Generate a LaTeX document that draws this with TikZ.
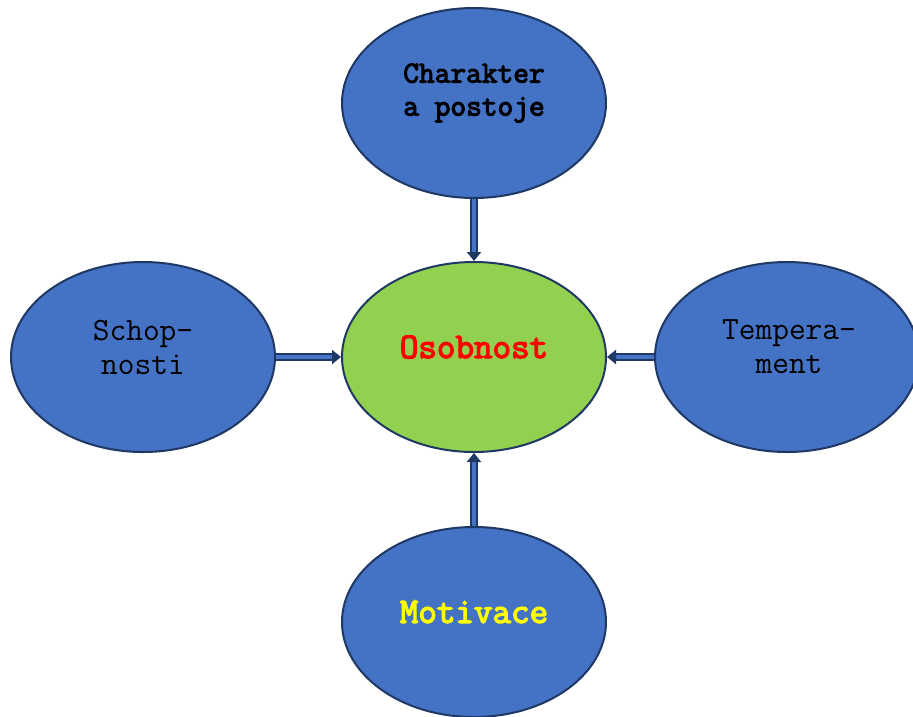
\documentclass[tikz,border=0pt]{standalone}
\usepackage{fontspec}
\newfontfamily\heavymono[FakeBold=3.5]{Latin Modern Mono}
\usetikzlibrary{arrows.meta,shapes.geometric}
\definecolor{nodeblue}{HTML}{4472C4}
\definecolor{edgeblue}{HTML}{1F3864}
\definecolor{centergreen}{HTML}{92D050}
\definecolor{txtred}{HTML}{FF0000}
\definecolor{txtyellow}{HTML}{FFFF00}
\tikzset{
  oval/.style={ellipse, draw=edgeblue, line width=2pt, fill=nodeblue,
    minimum width=264pt, minimum height=190pt, inner sep=0pt, align=center},
  lbl/.style={font=\ttfamily\fontsize{32.5}{34}\selectfont, align=center, inner sep=0pt},
  boldlbl/.style={lbl, font=\heavymono\fontsize{36}{38}\selectfont},
  conn/.style={draw=edgeblue, line width=2pt, double=nodeblue, double distance=3.5pt,
    -{Triangle[length=9pt,width=14pt]}, shorten >=0pt}
}
\begin{document}
\begin{tikzpicture}[x=1pt,y=-1pt]
\useasboundingbox (0,0) rectangle (913,716);
\node[oval] (top) at (474,103) {};
\node[oval, fill=centergreen] (mid) at (474,357) {};
\node[oval] (left) at (143,357) {};
\node[oval] (right) at (787,357) {};
\node[oval] (bot) at (474,622) {};
\node[boldlbl, font=\heavymono\fontsize{30.5}{33}\selectfont] (toptxt) at (474,93) {Charakter\\a postoje};
\node[boldlbl, text=txtred] (midtxt) at (474,347) {Osobnost};
\node[lbl] (lefttxt) at (143,347) {Schop-\\nosti};
\node[lbl] (righttxt) at (789,347) {Tempera-\\ment};
\node[boldlbl, text=txtyellow] (bottxt) at (474,612) {Motivace};
\draw[conn] (top.south) -- (mid.north);
\draw[conn] (bot.north) -- (mid.south);
\draw[conn] (left.east) -- (mid.west);
\draw[conn] (right.west) -- (mid.east);
\end{tikzpicture}
\end{document}
